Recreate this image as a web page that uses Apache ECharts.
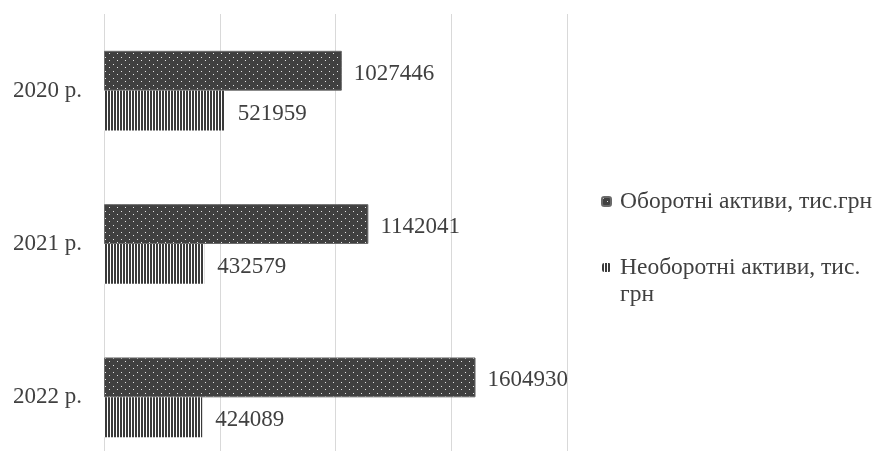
<!DOCTYPE html>
<html>
<head>
<meta charset="utf-8">
<script src="https://cdn.jsdelivr.net/npm/echarts@6/dist/echarts.min.js"></script>
<style>
  html, body { margin: 0; padding: 0; background: #ffffff; overflow: hidden; }
  /* the plot runs past the lower edge of the window, so the canvas is taller than the view */
  #chart { width: 874px; height: 480px; }
</style>
</head>
<body>
<div id="chart"></div>
<script>
// Assets by year, thousand UAH
const years = ['2020 р.', '2021 р.', '2022 р.'];
const currentAssets = [1027446, 1142041, 1604930];
const nonCurrentAssets = [521959, 432579, 424089];
const seriesNames = ['Оборотні активи, тис.грн', 'Необоротні активи, тис. грн'];

// Dotted fill: dark ground with small light dots on an offset grid
function dotPattern() {
  const c = document.createElement('canvas');
  c.width = 8; c.height = 7;
  const g = c.getContext('2d');
  g.fillStyle = '#404040';
  g.fillRect(0, 0, 8, 7);
  g.fillStyle = '#e6e6e6';
  g.fillRect(1, 1, 1, 1);
  g.fillRect(5, 4, 1, 1);
  return c;
}

// Vertical hatching: dark and light stripes
function stripePattern() {
  const c = document.createElement('canvas');
  c.width = 3; c.height = 4;
  const g = c.getContext('2d');
  g.fillStyle = '#ffffff';
  g.fillRect(0, 0, 3, 4);
  g.fillStyle = '#3a3a3a';
  g.fillRect(0, 0, 2, 4);
  return c;
}

const serif = '"Liberation Serif", "DejaVu Serif", serif';
const textColor = '#404040';
const fontSize = 23;

const chart = echarts.init(document.getElementById('chart'), null, { renderer: 'canvas' });
chart.setOption({
  animation: false,
  backgroundColor: '#ffffff',
  grid: { left: 104, top: 14, width: 463, height: 460, containLabel: false },
  xAxis: {
    type: 'value',
    min: 0,
    max: 2000000,
    interval: 500000,
    axisLabel: { show: false },
    axisLine: { show: false },
    axisTick: { show: false },
    splitLine: { show: true, lineStyle: { color: '#d9d9d9', width: 1 } }
  },
  yAxis: {
    type: 'category',
    data: years,
    inverse: true,
    axisLine: { show: false },
    axisTick: { show: false },
    axisLabel: {
      margin: 22, color: textColor, fontFamily: serif, fontSize: fontSize,
      padding: [4, 0, 0, 0]
    }
  },
  legend: {
    orient: 'vertical',
    left: 601,
    top: 188,
    padding: 0,
    itemWidth: 9,
    itemHeight: 9,
    itemGap: 12,
    data: seriesNames,
    // the second entry wraps; a leading blank line keeps its marker beside the first line
    formatter: function (name) {
      return name === seriesNames[1] ? '\n' + name.replace('тис. ', 'тис.\n') : name;
    },
    textStyle: {
      color: textColor, fontFamily: serif, fontSize: 23.5, lineHeight: 27,
      padding: [0, 0, 0, 4]
    }
  },
  series: [
    {
      name: seriesNames[0],
      type: 'bar',
      data: currentAssets,
      barGap: '0%',
      barCategoryGap: '48%',
      itemStyle: {
        color: { image: dotPattern(), repeat: 'repeat' },
        borderColor: '#6a6a6a',
        borderWidth: 1
      },
      label: {
        show: true, position: 'right', distance: 12, offset: [0, 3],
        color: textColor, fontFamily: serif, fontSize: fontSize
      }
    },
    {
      name: seriesNames[1],
      type: 'bar',
      data: nonCurrentAssets,
      barGap: '0%',
      barCategoryGap: '48%',
      itemStyle: {
        color: { image: stripePattern(), repeat: 'repeat' }
      },
      label: {
        show: true, position: 'right', distance: 13, offset: [0, 3],
        color: textColor, fontFamily: serif, fontSize: fontSize
      }
    }
  ]
});
</script>
</body>
</html>
